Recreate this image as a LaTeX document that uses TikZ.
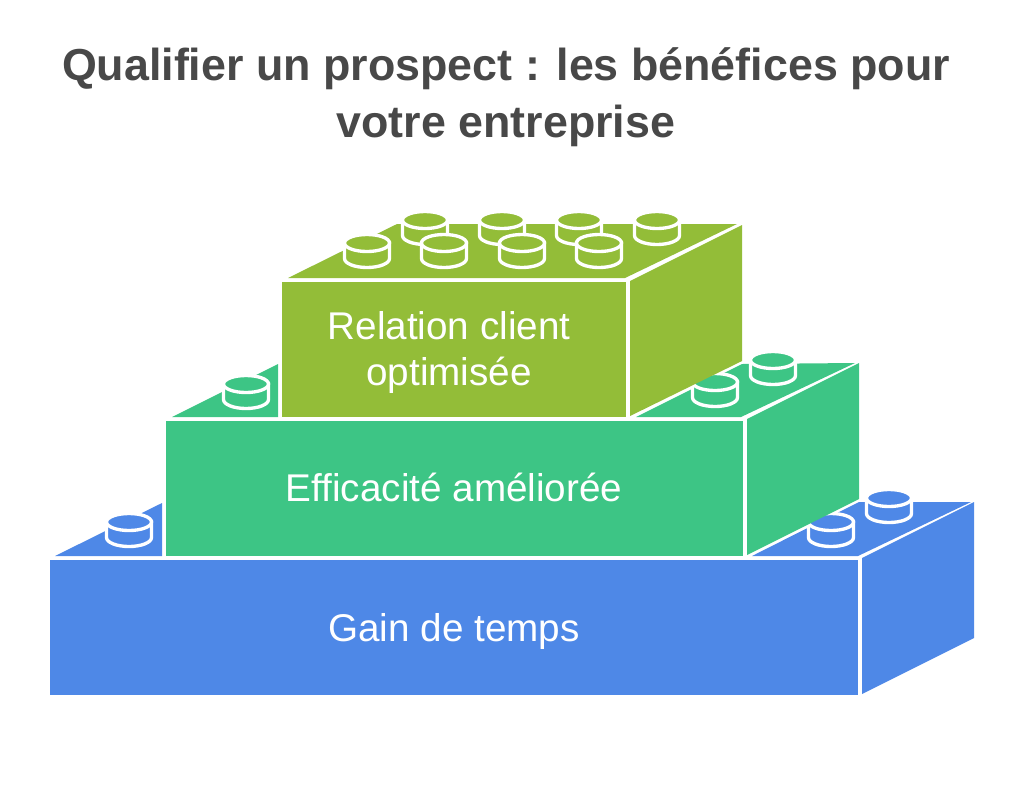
\documentclass[tikz,border=0pt]{standalone}
\usepackage{fontspec}
\setmainfont{Liberation Sans}
\definecolor{brickblue}{HTML}{4E88E7}
\definecolor{brickgreen}{HTML}{3DC585}
\definecolor{brickolive}{HTML}{93BD38}
\definecolor{titlegrey}{HTML}{484848}
\tikzset{
    titletext/.style={anchor=base, text=titlegrey, font=\bfseries\fontsize{25.5}{30}\selectfont},
    bricktext/.style={anchor=base, text=white, font=\fontsize{22}{26}\selectfont},
}
% top ellipse centre of a stud, then its colour
\newcommand{\brickstud}[3]{
    \filldraw[fill=#3, draw=white, line width=1.9pt] (#1-22.5, #2) -- (#1-22.5, #2+15.5) arc[start angle=180, end angle=0, x radius=22.5, y radius=9] -- (#1+22.5, #2) -- cycle;
    \filldraw[fill=#3, draw=white, line width=1.9pt] (#1, #2) ellipse[x radius=22.5, y radius=8.5];
}
\begin{document}
\begin{tikzpicture}[x=0.02cm, y=-0.02cm]
    \useasboundingbox (0, 0) rectangle (1024, 792);
    \node[titletext] (titleone) at (506, 80.5) {Qualifier un prospect : les bénéfices pour};
    \node[titletext] (titletwo) at (506, 137.5) {votre entreprise};

    % bottom brick
    \fill[brickblue] (50, 560) rectangle (858, 695);
    \fill[brickblue] (862, 558) -- (974, 502) -- (974, 638) -- (862, 694) -- cycle;
    \fill[brickblue] (55, 556) -- (162, 503) -- (162, 556) -- cycle;
    \fill[brickblue] (752, 556) -- (859, 502) -- (971, 502) -- (858, 556) -- cycle;
    \brickstud{129}{522}{brickblue}
    \brickstud{889}{498}{brickblue}
    \brickstud{831}{522}{brickblue}

    % middle brick
    \fill[brickgreen] (166, 421) rectangle (743, 556);
    \fill[brickgreen] (747, 419) -- (859, 363) -- (859, 499) -- (747, 555) -- cycle;
    \fill[brickgreen] (172, 417) -- (278, 364) -- (278, 417) -- cycle;
    \fill[brickgreen] (636, 417) -- (742, 364) -- (855, 363) -- (741, 417) -- cycle;
    \brickstud{246}{384}{brickgreen}
    \brickstud{773}{360}{brickgreen}
    \brickstud{715}{382}{brickgreen}

    % top brick
    \fill[brickolive] (282, 282) rectangle (626, 417);
    \fill[brickolive] (630, 281) -- (742, 225) -- (742, 361) -- (630, 416) -- cycle;
    \fill[brickolive] (288, 278) -- (397, 224) -- (737, 224) -- (625, 278) -- cycle;
    \brickstud{425}{220}{brickolive}
    \brickstud{502}{220}{brickolive}
    \brickstud{579}{220}{brickolive}
    \brickstud{657}{220}{brickolive}
    \brickstud{367}{243}{brickolive}
    \brickstud{444}{243}{brickolive}
    \brickstud{522}{243}{brickolive}
    \brickstud{599}{243}{brickolive}

    \node[bricktext] (relationone) at (449, 339.5) {Relation client};
    \node[bricktext] (relationtwo) at (449, 385.5) {optimisée};
    \node[bricktext] (efficacite) at (454, 501.5) {Efficacité améliorée};
    \node[bricktext] (gain) at (454, 641) {Gain de temps};
\end{tikzpicture}
\end{document}
